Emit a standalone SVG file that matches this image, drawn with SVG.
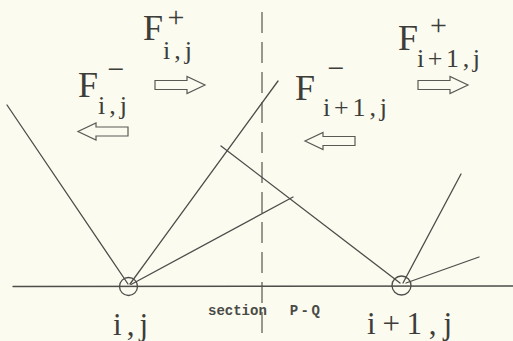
<svg xmlns="http://www.w3.org/2000/svg" width="513" height="341" viewBox="0 0 513 341">
  <defs>
    <style>
      .ln { stroke: #4d4d4a; stroke-width: 1.3; fill: none; stroke-linecap: round; }
      .dash { stroke: #55554f; stroke-width: 1.2; fill: none; stroke-dasharray: 21 9; }
      .arr { stroke: #5a5a55; stroke-width: 1.2; fill: #fbfbf0; stroke-linejoin: miter; }
      .F { font-family: "Liberation Serif", "DejaVu Serif", serif; font-size: 36px; fill: #3d3d3a; }
      .sup { font-family: "Liberation Serif", "DejaVu Serif", serif; font-size: 30px; fill: #3d3d3a; text-anchor: middle; }
      .sub { font-family: "Liberation Serif", "DejaVu Serif", serif; font-size: 26px; fill: #3d3d3a; }
      .lbl { font-family: "Liberation Serif", "DejaVu Serif", serif; font-size: 31px; fill: #3d3d3a; }
      .sec { font-family: "Liberation Mono", "DejaVu Sans Mono", monospace; font-size: 14px; font-weight: bold; fill: #4a4a46; }
    </style>
    <path id="arrowR" d="M0,-4.5 H32 V-8.5 L50,0 L32,8.5 V4.5 H0 Z"/>
  </defs>

  <rect x="0" y="0" width="513" height="341" fill="#fbfbf0"/>

  <!-- section line P-Q -->
  <line class="dash" x1="262" y1="12" x2="262" y2="341"/>

  <!-- connectors -->
  <g id="connectors">
    <line class="ln" x1="13" y1="286.5" x2="513" y2="286"/>
    <line class="ln" x1="7" y1="105" x2="128" y2="284"/>
    <line class="ln" x1="130" y1="284" x2="278" y2="81"/>
    <line class="ln" x1="131" y1="284.5" x2="293" y2="197"/>
    <line class="ln" x1="221" y1="146" x2="400" y2="283"/>
    <line class="ln" x1="403" y1="283" x2="461" y2="174"/>
    <line class="ln" x1="406" y1="283" x2="479" y2="257"/>
  </g>

  <!-- nodes -->
  <g id="node-ij">
    <circle class="ln" cx="128.5" cy="286.5" r="9"/>
    <text class="lbl" x="113" y="335" textLength="35" lengthAdjust="spacing">i,j</text>
  </g>
  <g id="node-i1j">
    <circle class="ln" cx="401.5" cy="285.5" r="9.5"/>
    <text class="lbl" x="367" y="334" textLength="85" lengthAdjust="spacing">i+1,j</text>
  </g>

  <text class="sec" x="208" y="315">section<tspan dx="12" letter-spacing="2.5"> P-Q</tspan></text>

  <!-- flux labels -->
  <g id="flux-plus-ij">
    <text class="F" x="143" y="40">F</text>
    <text class="sup" x="176" y="27">+</text>
    <text class="sub" x="163" y="59" textLength="29" lengthAdjust="spacing">i,j</text>
    <use href="#arrowR" class="arr" transform="translate(155,85)"/>
  </g>
  <g id="flux-minus-ij">
    <text class="F" x="78" y="97">F</text>
    <text class="sup" x="116" y="78.5">−</text>
    <text class="sub" x="98" y="114" textLength="29" lengthAdjust="spacing">i,j</text>
    <use href="#arrowR" class="arr" transform="translate(128,131.5) scale(-1,1)"/>
  </g>
  <g id="flux-minus-i1j">
    <text class="F" x="295" y="100">F</text>
    <text class="sup" x="336" y="77.5">−</text>
    <text class="sub" x="323" y="116" textLength="64" lengthAdjust="spacing">i+1,j</text>
    <use href="#arrowR" class="arr" transform="translate(355,141) scale(-1,1)"/>
  </g>
  <g id="flux-plus-i1j">
    <text class="F" x="398" y="50">F</text>
    <text class="sup" x="438.5" y="35">+</text>
    <text class="sub" x="417" y="67" textLength="63" lengthAdjust="spacing">i+1,j</text>
    <use href="#arrowR" class="arr" transform="translate(418,85)"/>
  </g>
</svg>
